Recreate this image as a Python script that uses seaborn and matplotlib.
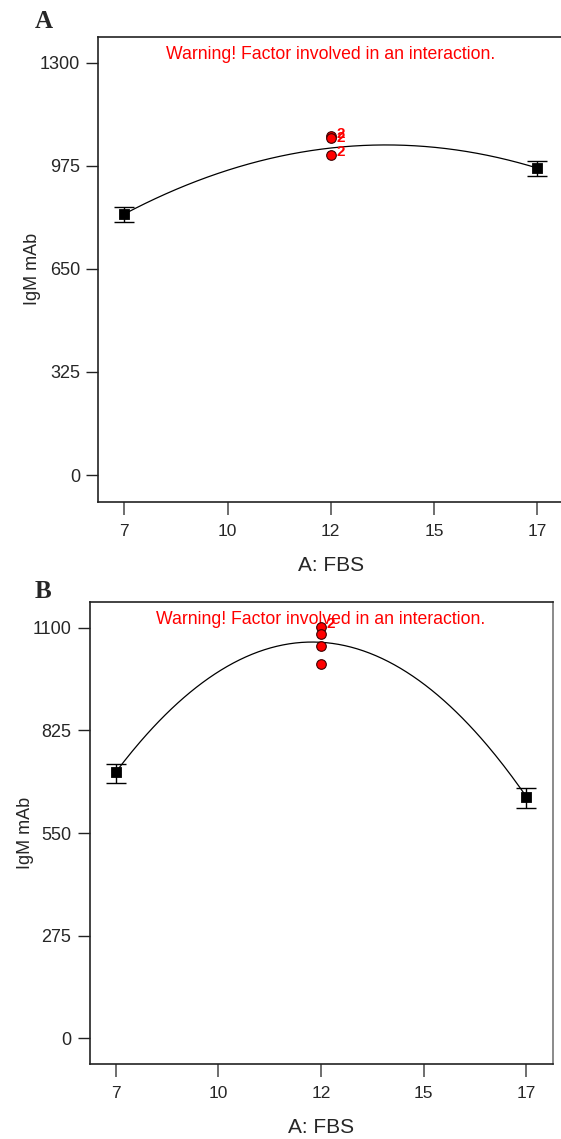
import numpy as np
import pandas as pd
import matplotlib
matplotlib.use("Agg")
import matplotlib.pyplot as plt
import seaborn as sns

# ---------------- data ----------------
x_ends = [7, 17]
tick_pos = [7, 9.5, 12, 14.5, 17]
tick_labels = ["7", "10", "12", "15", "17"]

# Panel A
a_means = [823, 968]
a_low = [798, 943]
a_high = [845, 990]
a_center_fit = 1031
a_pts = [1068, 1062, 1009]
a_pt_labels = ["2", "2", "2"]
a_yticks = [0, 325, 650, 975, 1300]
a_ylim = (-84, 1381)

# Panel B
b_means = [713, 647]
b_low = [684, 617]
b_high = [735, 671]
b_center_fit = 1061
b_pts = [1103, 1082, 1050, 1004]
b_pt_labels = ["2", "", "", ""]
b_yticks = [0, 275, 550, 825, 1100]
b_ylim = (-69, 1169)

warning = "Warning! Factor involved in an interaction."

# ---------------- style ----------------
sns.set_style("white")
plt.rcParams["font.family"] = ["Liberation Sans", "DejaVu Sans"]

fig = plt.figure(figsize=(5.61, 11.39), dpi=100)
W, H = 561, 1139


def add_axes(left, right, top, bottom):
    return fig.add_axes([left / W, 1 - bottom / H, (right - left) / W, (bottom - top) / H])


axA = add_axes(98, 563.5, 37, 501.7)
axB = add_axes(89.5, 552.7, 602, 1064)


def draw(ax, means, low, high, center_fit, pts, pt_labels, yticks, ylim, letter, letter_xy):
    # quadratic model curve through the mean values
    xs = np.array([x_ends[0], 12, x_ends[1]], dtype=float)
    ys = np.array([means[0], center_fit, means[1]], dtype=float)
    coef = np.polyfit(xs, ys, 2)
    xg = np.linspace(x_ends[0], x_ends[1], 200)
    curve = pd.DataFrame({"x": xg, "y": np.polyval(coef, xg)})
    sns.lineplot(data=curve, x="x", y="y", ax=ax, color="black", lw=0.9, zorder=2)

    # end points with error bars
    yerr = np.array([[m - l for m, l in zip(means, low)], [h - m for m, h in zip(means, high)]])
    ax.errorbar(x_ends, means, yerr=yerr, fmt="none", ecolor="black", elinewidth=1.0,
                capsize=7, capthick=1.0, zorder=3)
    dfm = pd.DataFrame({"x": x_ends, "y": means})
    sns.scatterplot(data=dfm, x="x", y="y", ax=ax, marker="s", s=55, color="black",
                    edgecolor="black", zorder=4)

    # design points at center
    dfp = pd.DataFrame({"x": [12] * len(pts), "y": pts})
    sns.scatterplot(data=dfp, x="x", y="y", ax=ax, marker="o", s=48, color="#FF0000",
                    edgecolor="#3a0000", linewidth=0.8, zorder=5)
    for i, (y, lab) in enumerate(zip(pts, pt_labels)):
        if lab:
            ax.annotate(lab, (12, y), xytext=(4, 2 - 2 * (i % 2)), textcoords="offset points",
                        color="#FF0000", fontsize=11, fontweight="bold", ha="left", va="center")

    ax.set_xlim(6.36, 17.64)
    ax.set_ylim(*ylim)
    ax.set_xticks(tick_pos)
    ax.set_xticklabels(tick_labels)
    ax.set_yticks(yticks)
    ax.set_yticklabels([str(t) for t in yticks])
    ax.tick_params(axis="x", direction="out", length=9, width=1.2, color="#555555",
                   labelsize=12.5, pad=7, bottom=True)
    ax.tick_params(axis="y", direction="out", length=9, width=1.0, color="#222222",
                   labelsize=13, pad=4, left=True)
    for s in ax.spines.values():
        s.set_color("#222222")
        s.set_linewidth(1.2)
    ax.spines["right"].set_color("#777777")
    ax.set_xlabel("A: FBS", fontsize=15, labelpad=12)
    ax.set_ylabel("IgM mAb", fontsize=13, labelpad=-1)
    ax.text(0.5, 0.962, warning, transform=ax.transAxes, ha="center", va="center",
            color="#FF0000", fontsize=12.7)
    fig.text(letter_xy[0] / W, 1 - letter_xy[1] / H, letter, fontsize=18, fontweight="bold",
             family="Liberation Serif", ha="center", va="center")


draw(axA, a_means, a_low, a_high, a_center_fit, a_pts, a_pt_labels, a_yticks, a_ylim, "A", (44, 21))
draw(axB, b_means, b_low, b_high, b_center_fit, b_pts, b_pt_labels, b_yticks, b_ylim, "B", (43, 592))

fig.savefig("out.png", dpi=100)
